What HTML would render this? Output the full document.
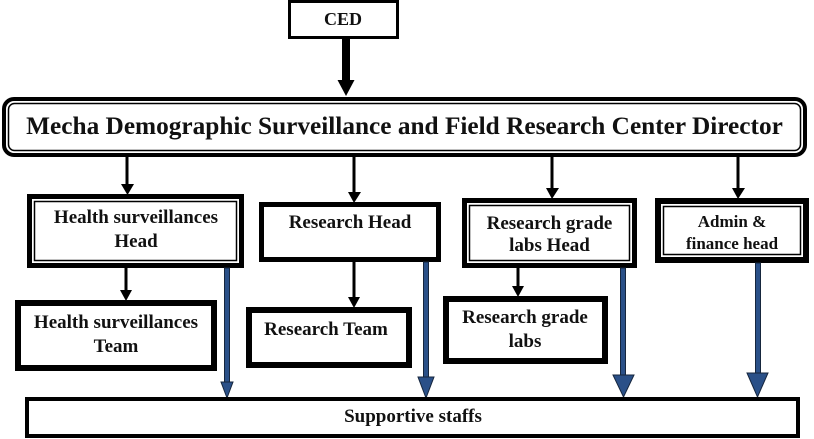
<!DOCTYPE html>
<html>
<head>
<meta charset="utf-8">
<style>
  html, body { margin:0; padding:0; background:#fff; }
  body { width:814px; height:439px; overflow:hidden; }
  svg { display:block; }
  text { font-family: "Liberation Serif", "Times New Roman", serif; font-weight:bold; fill:#111; }
</style>
</head>
<body>
<svg width="814" height="439" viewBox="0 0 814 439" xmlns="http://www.w3.org/2000/svg">
  <rect x="0" y="0" width="814" height="439" fill="#fff"/>

  <!-- CED -->
  <rect x="289.5" y="1.5" width="108" height="36" fill="#fff" stroke="#000" stroke-width="3"/>
  <text x="343" y="25" font-size="18" text-anchor="middle">CED</text>

  <!-- thick arrow CED -> Director -->
  <rect x="342" y="39" width="8" height="43" fill="#000"/>
  <polygon points="337.5,80 354.5,80 346,96" fill="#000"/>

  <!-- Director box (rounded double) -->
  <rect x="4" y="99" width="801" height="56" rx="10" ry="10" fill="#fff" stroke="#000" stroke-width="4"/>
  <rect x="8.5" y="103.5" width="792" height="47" rx="6" ry="6" fill="none" stroke="#000" stroke-width="1.5"/>
  <text x="404.5" y="134" font-size="25.3" text-anchor="middle">Mecha Demographic Surveillance and Field Research Center Director</text>

  <!-- black arrows director -> heads -->
  <g fill="#000">
    <rect x="125.5" y="157" width="3" height="28"/>
    <polygon points="121,184 134,184 127.5,195"/>
    <rect x="352.5" y="157" width="3" height="36"/>
    <polygon points="348,192 361,192 354,203"/>
    <rect x="550.5" y="157" width="3" height="32"/>
    <polygon points="546,188 559,188 552,199"/>
    <rect x="736.5" y="157" width="3" height="32"/>
    <polygon points="732,188 745,188 738,199"/>
  </g>

  <!-- Health surveillances Head (double) -->
  <rect x="29.5" y="196.5" width="212" height="69" fill="#fff" stroke="#000" stroke-width="5"/>
  <rect x="34.5" y="201.5" width="202" height="59" fill="none" stroke="#000" stroke-width="1.5"/>
  <text x="136" y="223" font-size="19" text-anchor="middle">Health surveillances</text>
  <text x="136" y="247" font-size="19" text-anchor="middle">Head</text>

  <!-- Research Head (single thick) -->
  <rect x="261.5" y="204.5" width="177" height="55" fill="#fff" stroke="#000" stroke-width="5"/>
  <text x="350" y="228" font-size="19" text-anchor="middle">Research Head</text>

  <!-- Research grade labs Head (double) -->
  <rect x="464.5" y="200.5" width="170" height="65" fill="#fff" stroke="#000" stroke-width="5"/>
  <rect x="469.5" y="205.5" width="160" height="55" fill="none" stroke="#000" stroke-width="1.5"/>
  <text x="549.5" y="229" font-size="19" text-anchor="middle">Research grade</text>
  <text x="549.5" y="251" font-size="19" text-anchor="middle">labs Head</text>

  <!-- Admin & finance head (double) -->
  <rect x="658" y="201" width="148" height="59" fill="#fff" stroke="#000" stroke-width="6"/>
  <rect x="663.5" y="206.5" width="137" height="48" fill="none" stroke="#000" stroke-width="1.5"/>
  <text x="732" y="227" font-size="17" text-anchor="middle">Admin &amp;</text>
  <text x="732" y="249" font-size="17" text-anchor="middle">finance head</text>

  <!-- black arrows heads -> teams -->
  <g fill="#000">
    <rect x="124.5" y="268" width="3" height="24"/>
    <polygon points="120,290 132,290 126,301"/>
    <rect x="352.5" y="262" width="3" height="37"/>
    <polygon points="348,297 360,297 354,308"/>
    <rect x="516.5" y="268" width="3" height="20"/>
    <polygon points="512,286 524,286 518,297"/>
  </g>

  <!-- Health surveillances Team -->
  <rect x="18" y="303" width="196" height="65" fill="#fff" stroke="#000" stroke-width="6"/>
  <text x="116" y="328" font-size="19" text-anchor="middle">Health surveillances</text>
  <text x="116" y="352" font-size="19" text-anchor="middle">Team</text>

  <!-- Research Team -->
  <rect x="249" y="310" width="160" height="55" fill="#fff" stroke="#000" stroke-width="6"/>
  <text x="326" y="335" font-size="19" text-anchor="middle">Research Team</text>

  <!-- Research grade labs -->
  <rect x="446" y="299" width="159" height="62" fill="#fff" stroke="#000" stroke-width="6"/>
  <text x="525" y="323" font-size="19" text-anchor="middle">Research grade</text>
  <text x="525" y="347" font-size="19" text-anchor="middle">labs</text>

  <!-- blue arrows to Supportive staffs -->
  <g fill="#2a5088" stroke="#16263d" stroke-width="1">
    <rect x="224.5" y="268" width="5" height="115"/>
    <polygon points="221,382 233,382 227,398"/>
    <rect x="423.5" y="262" width="5" height="116"/>
    <polygon points="418,377 434,377 426,398"/>
    <rect x="620.5" y="268" width="5" height="108"/>
    <polygon points="613,375 634,375 623.5,397"/>
    <rect x="755.5" y="263" width="5" height="111"/>
    <polygon points="747,373 768,373 757.5,397"/>
  </g>

  <!-- Supportive staffs -->
  <rect x="27" y="399" width="771" height="37" fill="#fff" stroke="#000" stroke-width="4"/>
  <text x="413" y="422" font-size="19" text-anchor="middle">Supportive staffs</text>
</svg>
</body>
</html>
